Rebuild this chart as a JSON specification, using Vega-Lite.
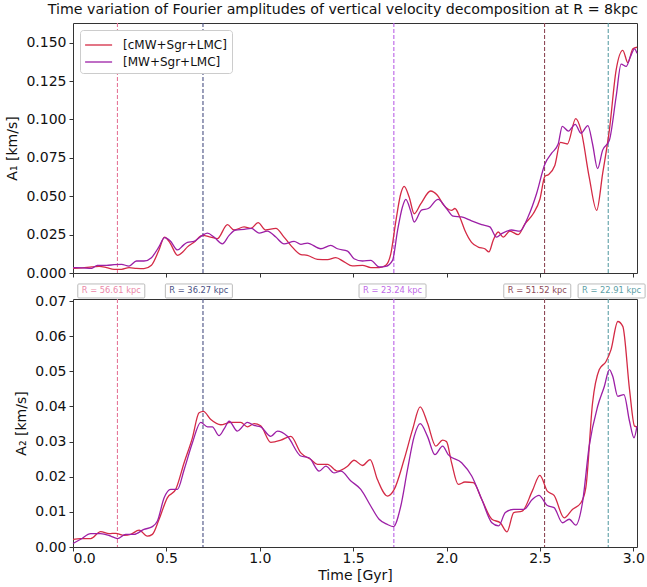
{
  "$schema": "https://vega.github.io/schema/vega-lite/v6.json",
  "padding": {"left": 5, "top": 2, "right": 5, "bottom": 2},
  "background": "white",
  "config": {
    "font": "DejaVu Sans",
    "view": {"stroke": "#333", "strokeWidth": 1},
    "axis": {"grid": false, "domain": false, "tickColor": "#333", "tickSize": 4, "labelFontSize": 14, "titleFontSize": 14, "titleFontWeight": "normal", "labelColor": "#111", "titleColor": "#111", "labelPadding": 3},
    "concat": {"spacing": 26}
  },
  "datasets": {
    "top": [
      {"t": 0.00, "A": 0.0030, "series": "[cMW+Sgr+LMC]"}, {"t": 0.05, "A": 0.0033, "series": "[cMW+Sgr+LMC]"}, {"t": 0.10, "A": 0.0040, "series": "[cMW+Sgr+LMC]"}, {"t": 0.14, "A": 0.0043, "series": "[cMW+Sgr+LMC]"}, {"t": 0.18, "A": 0.0035, "series": "[cMW+Sgr+LMC]"}, {"t": 0.22, "A": 0.0024, "series": "[cMW+Sgr+LMC]"}, {"t": 0.26, "A": 0.0024, "series": "[cMW+Sgr+LMC]"}, {"t": 0.30, "A": 0.0035, "series": "[cMW+Sgr+LMC]"}, {"t": 0.34, "A": 0.0030, "series": "[cMW+Sgr+LMC]"}, {"t": 0.38, "A": 0.0028, "series": "[cMW+Sgr+LMC]"}, {"t": 0.42, "A": 0.0050, "series": "[cMW+Sgr+LMC]"}, {"t": 0.46, "A": 0.0148, "series": "[cMW+Sgr+LMC]"}, {"t": 0.49, "A": 0.0234, "series": "[cMW+Sgr+LMC]"}, {"t": 0.52, "A": 0.0195, "series": "[cMW+Sgr+LMC]"}, {"t": 0.56, "A": 0.0115, "series": "[cMW+Sgr+LMC]"}, {"t": 0.59, "A": 0.0140, "series": "[cMW+Sgr+LMC]"}, {"t": 0.613, "A": 0.0170, "series": "[cMW+Sgr+LMC]"}, {"t": 0.648, "A": 0.0200, "series": "[cMW+Sgr+LMC]"}, {"t": 0.693, "A": 0.0245, "series": "[cMW+Sgr+LMC]"}, {"t": 0.737, "A": 0.0234, "series": "[cMW+Sgr+LMC]"}, {"t": 0.773, "A": 0.0224, "series": "[cMW+Sgr+LMC]"}, {"t": 0.827, "A": 0.0315, "series": "[cMW+Sgr+LMC]"}, {"t": 0.862, "A": 0.0280, "series": "[cMW+Sgr+LMC]"}, {"t": 0.916, "A": 0.0300, "series": "[cMW+Sgr+LMC]"}, {"t": 0.952, "A": 0.0290, "series": "[cMW+Sgr+LMC]"}, {"t": 0.991, "A": 0.0328, "series": "[cMW+Sgr+LMC]"}, {"t": 1.032, "A": 0.0280, "series": "[cMW+Sgr+LMC]"}, {"t": 1.086, "A": 0.0290, "series": "[cMW+Sgr+LMC]"}, {"t": 1.130, "A": 0.0234, "series": "[cMW+Sgr+LMC]"}, {"t": 1.166, "A": 0.0180, "series": "[cMW+Sgr+LMC]"}, {"t": 1.220, "A": 0.0120, "series": "[cMW+Sgr+LMC]"}, {"t": 1.255, "A": 0.0115, "series": "[cMW+Sgr+LMC]"}, {"t": 1.309, "A": 0.0089, "series": "[cMW+Sgr+LMC]"}, {"t": 1.363, "A": 0.0087, "series": "[cMW+Sgr+LMC]"}, {"t": 1.407, "A": 0.0100, "series": "[cMW+Sgr+LMC]"}, {"t": 1.452, "A": 0.0072, "series": "[cMW+Sgr+LMC]"}, {"t": 1.496, "A": 0.0046, "series": "[cMW+Sgr+LMC]"}, {"t": 1.550, "A": 0.0050, "series": "[cMW+Sgr+LMC]"}, {"t": 1.595, "A": 0.0035, "series": "[cMW+Sgr+LMC]"}, {"t": 1.639, "A": 0.0035, "series": "[cMW+Sgr+LMC]"}, {"t": 1.675, "A": 0.0050, "series": "[cMW+Sgr+LMC]"}, {"t": 1.702, "A": 0.0126, "series": "[cMW+Sgr+LMC]"}, {"t": 1.729, "A": 0.0340, "series": "[cMW+Sgr+LMC]"}, {"t": 1.755, "A": 0.0516, "series": "[cMW+Sgr+LMC]"}, {"t": 1.773, "A": 0.0564, "series": "[cMW+Sgr+LMC]"}, {"t": 1.800, "A": 0.0495, "series": "[cMW+Sgr+LMC]"}, {"t": 1.827, "A": 0.0386, "series": "[cMW+Sgr+LMC]"}, {"t": 1.862, "A": 0.0450, "series": "[cMW+Sgr+LMC]"}, {"t": 1.915, "A": 0.0534, "series": "[cMW+Sgr+LMC]"}, {"t": 1.951, "A": 0.0506, "series": "[cMW+Sgr+LMC]"}, {"t": 1.986, "A": 0.0440, "series": "[cMW+Sgr+LMC]"}, {"t": 2.027, "A": 0.0408, "series": "[cMW+Sgr+LMC]"}, {"t": 2.045, "A": 0.0420, "series": "[cMW+Sgr+LMC]"}, {"t": 2.071, "A": 0.0365, "series": "[cMW+Sgr+LMC]"}, {"t": 2.098, "A": 0.0278, "series": "[cMW+Sgr+LMC]"}, {"t": 2.134, "A": 0.0200, "series": "[cMW+Sgr+LMC]"}, {"t": 2.170, "A": 0.0169, "series": "[cMW+Sgr+LMC]"}, {"t": 2.205, "A": 0.0158, "series": "[cMW+Sgr+LMC]"}, {"t": 2.227, "A": 0.0137, "series": "[cMW+Sgr+LMC]"}, {"t": 2.250, "A": 0.0213, "series": "[cMW+Sgr+LMC]"}, {"t": 2.277, "A": 0.0267, "series": "[cMW+Sgr+LMC]"}, {"t": 2.304, "A": 0.0234, "series": "[cMW+Sgr+LMC]"}, {"t": 2.339, "A": 0.0273, "series": "[cMW+Sgr+LMC]"}, {"t": 2.384, "A": 0.0250, "series": "[cMW+Sgr+LMC]"}, {"t": 2.420, "A": 0.0320, "series": "[cMW+Sgr+LMC]"}, {"t": 2.464, "A": 0.0386, "series": "[cMW+Sgr+LMC]"}, {"t": 2.500, "A": 0.0480, "series": "[cMW+Sgr+LMC]"}, {"t": 2.527, "A": 0.0630, "series": "[cMW+Sgr+LMC]"}, {"t": 2.545, "A": 0.0640, "series": "[cMW+Sgr+LMC]"}, {"t": 2.580, "A": 0.0700, "series": "[cMW+Sgr+LMC]"}, {"t": 2.610, "A": 0.0850, "series": "[cMW+Sgr+LMC]"}, {"t": 2.647, "A": 0.0840, "series": "[cMW+Sgr+LMC]"}, {"t": 2.692, "A": 0.1005, "series": "[cMW+Sgr+LMC]"}, {"t": 2.720, "A": 0.0930, "series": "[cMW+Sgr+LMC]"}, {"t": 2.764, "A": 0.0625, "series": "[cMW+Sgr+LMC]"}, {"t": 2.804, "A": 0.0408, "series": "[cMW+Sgr+LMC]"}, {"t": 2.836, "A": 0.0647, "series": "[cMW+Sgr+LMC]"}, {"t": 2.872, "A": 0.0930, "series": "[cMW+Sgr+LMC]"}, {"t": 2.908, "A": 0.1320, "series": "[cMW+Sgr+LMC]"}, {"t": 2.944, "A": 0.1450, "series": "[cMW+Sgr+LMC]"}, {"t": 2.971, "A": 0.1370, "series": "[cMW+Sgr+LMC]"}, {"t": 2.998, "A": 0.1460, "series": "[cMW+Sgr+LMC]"}, {"t": 3.020, "A": 0.1470, "series": "[cMW+Sgr+LMC]"},
      {"t": 0.00, "A": 0.0035, "series": "[MW+Sgr+LMC]"}, {"t": 0.05, "A": 0.0033, "series": "[MW+Sgr+LMC]"}, {"t": 0.10, "A": 0.0030, "series": "[MW+Sgr+LMC]"}, {"t": 0.13, "A": 0.0050, "series": "[MW+Sgr+LMC]"}, {"t": 0.18, "A": 0.0050, "series": "[MW+Sgr+LMC]"}, {"t": 0.22, "A": 0.0054, "series": "[MW+Sgr+LMC]"}, {"t": 0.26, "A": 0.0056, "series": "[MW+Sgr+LMC]"}, {"t": 0.30, "A": 0.0045, "series": "[MW+Sgr+LMC]"}, {"t": 0.34, "A": 0.0078, "series": "[MW+Sgr+LMC]"}, {"t": 0.38, "A": 0.0078, "series": "[MW+Sgr+LMC]"}, {"t": 0.42, "A": 0.0100, "series": "[MW+Sgr+LMC]"}, {"t": 0.46, "A": 0.0170, "series": "[MW+Sgr+LMC]"}, {"t": 0.49, "A": 0.0230, "series": "[MW+Sgr+LMC]"}, {"t": 0.52, "A": 0.0210, "series": "[MW+Sgr+LMC]"}, {"t": 0.56, "A": 0.0150, "series": "[MW+Sgr+LMC]"}, {"t": 0.59, "A": 0.0180, "series": "[MW+Sgr+LMC]"}, {"t": 0.613, "A": 0.0200, "series": "[MW+Sgr+LMC]"}, {"t": 0.648, "A": 0.0206, "series": "[MW+Sgr+LMC]"}, {"t": 0.693, "A": 0.0245, "series": "[MW+Sgr+LMC]"}, {"t": 0.720, "A": 0.0260, "series": "[MW+Sgr+LMC]"}, {"t": 0.755, "A": 0.0234, "series": "[MW+Sgr+LMC]"}, {"t": 0.800, "A": 0.0190, "series": "[MW+Sgr+LMC]"}, {"t": 0.836, "A": 0.0245, "series": "[MW+Sgr+LMC]"}, {"t": 0.871, "A": 0.0280, "series": "[MW+Sgr+LMC]"}, {"t": 0.916, "A": 0.0284, "series": "[MW+Sgr+LMC]"}, {"t": 0.955, "A": 0.0290, "series": "[MW+Sgr+LMC]"}, {"t": 0.996, "A": 0.0260, "series": "[MW+Sgr+LMC]"}, {"t": 1.041, "A": 0.0273, "series": "[MW+Sgr+LMC]"}, {"t": 1.086, "A": 0.0234, "series": "[MW+Sgr+LMC]"}, {"t": 1.130, "A": 0.0190, "series": "[MW+Sgr+LMC]"}, {"t": 1.184, "A": 0.0206, "series": "[MW+Sgr+LMC]"}, {"t": 1.220, "A": 0.0187, "series": "[MW+Sgr+LMC]"}, {"t": 1.255, "A": 0.0195, "series": "[MW+Sgr+LMC]"}, {"t": 1.327, "A": 0.0158, "series": "[MW+Sgr+LMC]"}, {"t": 1.380, "A": 0.0180, "series": "[MW+Sgr+LMC]"}, {"t": 1.416, "A": 0.0158, "series": "[MW+Sgr+LMC]"}, {"t": 1.470, "A": 0.0143, "series": "[MW+Sgr+LMC]"}, {"t": 1.505, "A": 0.0093, "series": "[MW+Sgr+LMC]"}, {"t": 1.550, "A": 0.0078, "series": "[MW+Sgr+LMC]"}, {"t": 1.595, "A": 0.0082, "series": "[MW+Sgr+LMC]"}, {"t": 1.639, "A": 0.0039, "series": "[MW+Sgr+LMC]"}, {"t": 1.675, "A": 0.0043, "series": "[MW+Sgr+LMC]"}, {"t": 1.711, "A": 0.0082, "series": "[MW+Sgr+LMC]"}, {"t": 1.738, "A": 0.0278, "series": "[MW+Sgr+LMC]"}, {"t": 1.764, "A": 0.0430, "series": "[MW+Sgr+LMC]"}, {"t": 1.782, "A": 0.0480, "series": "[MW+Sgr+LMC]"}, {"t": 1.809, "A": 0.0400, "series": "[MW+Sgr+LMC]"}, {"t": 1.827, "A": 0.0332, "series": "[MW+Sgr+LMC]"}, {"t": 1.866, "A": 0.0410, "series": "[MW+Sgr+LMC]"}, {"t": 1.902, "A": 0.0420, "series": "[MW+Sgr+LMC]"}, {"t": 1.955, "A": 0.0480, "series": "[MW+Sgr+LMC]"}, {"t": 2.000, "A": 0.0420, "series": "[MW+Sgr+LMC]"}, {"t": 2.036, "A": 0.0370, "series": "[MW+Sgr+LMC]"}, {"t": 2.080, "A": 0.0365, "series": "[MW+Sgr+LMC]"}, {"t": 2.134, "A": 0.0340, "series": "[MW+Sgr+LMC]"}, {"t": 2.188, "A": 0.0315, "series": "[MW+Sgr+LMC]"}, {"t": 2.232, "A": 0.0300, "series": "[MW+Sgr+LMC]"}, {"t": 2.268, "A": 0.0234, "series": "[MW+Sgr+LMC]"}, {"t": 2.295, "A": 0.0256, "series": "[MW+Sgr+LMC]"}, {"t": 2.348, "A": 0.0280, "series": "[MW+Sgr+LMC]"}, {"t": 2.393, "A": 0.0273, "series": "[MW+Sgr+LMC]"}, {"t": 2.438, "A": 0.0369, "series": "[MW+Sgr+LMC]"}, {"t": 2.482, "A": 0.0516, "series": "[MW+Sgr+LMC]"}, {"t": 2.527, "A": 0.0710, "series": "[MW+Sgr+LMC]"}, {"t": 2.563, "A": 0.0780, "series": "[MW+Sgr+LMC]"}, {"t": 2.598, "A": 0.0840, "series": "[MW+Sgr+LMC]"}, {"t": 2.620, "A": 0.0955, "series": "[MW+Sgr+LMC]"}, {"t": 2.653, "A": 0.0924, "series": "[MW+Sgr+LMC]"}, {"t": 2.689, "A": 0.0968, "series": "[MW+Sgr+LMC]"}, {"t": 2.720, "A": 0.0910, "series": "[MW+Sgr+LMC]"}, {"t": 2.757, "A": 0.0960, "series": "[MW+Sgr+LMC]"}, {"t": 2.782, "A": 0.0840, "series": "[MW+Sgr+LMC]"}, {"t": 2.809, "A": 0.0680, "series": "[MW+Sgr+LMC]"}, {"t": 2.836, "A": 0.0800, "series": "[MW+Sgr+LMC]"}, {"t": 2.872, "A": 0.0864, "series": "[MW+Sgr+LMC]"}, {"t": 2.908, "A": 0.1146, "series": "[MW+Sgr+LMC]"}, {"t": 2.935, "A": 0.1360, "series": "[MW+Sgr+LMC]"}, {"t": 2.962, "A": 0.1345, "series": "[MW+Sgr+LMC]"}, {"t": 2.984, "A": 0.1406, "series": "[MW+Sgr+LMC]"}, {"t": 3.007, "A": 0.1460, "series": "[MW+Sgr+LMC]"}, {"t": 3.020, "A": 0.1430, "series": "[MW+Sgr+LMC]"}
    ],
    "bottom": [
      {"t": 0.000, "A": 0.0022, "series": "[cMW+Sgr+LMC]"}, {"t": 0.041, "A": 0.0024, "series": "[cMW+Sgr+LMC]"}, {"t": 0.095, "A": 0.0024, "series": "[cMW+Sgr+LMC]"}, {"t": 0.148, "A": 0.0044, "series": "[cMW+Sgr+LMC]"}, {"t": 0.193, "A": 0.0038, "series": "[cMW+Sgr+LMC]"}, {"t": 0.229, "A": 0.0039, "series": "[cMW+Sgr+LMC]"}, {"t": 0.273, "A": 0.0033, "series": "[cMW+Sgr+LMC]"}, {"t": 0.309, "A": 0.0036, "series": "[cMW+Sgr+LMC]"}, {"t": 0.354, "A": 0.0048, "series": "[cMW+Sgr+LMC]"}, {"t": 0.398, "A": 0.0031, "series": "[cMW+Sgr+LMC]"}, {"t": 0.425, "A": 0.0036, "series": "[cMW+Sgr+LMC]"}, {"t": 0.461, "A": 0.0079, "series": "[cMW+Sgr+LMC]"}, {"t": 0.505, "A": 0.0140, "series": "[cMW+Sgr+LMC]"}, {"t": 0.550, "A": 0.0164, "series": "[cMW+Sgr+LMC]"}, {"t": 0.595, "A": 0.0240, "series": "[cMW+Sgr+LMC]"}, {"t": 0.639, "A": 0.0310, "series": "[cMW+Sgr+LMC]"}, {"t": 0.675, "A": 0.0382, "series": "[cMW+Sgr+LMC]"}, {"t": 0.698, "A": 0.0386, "series": "[cMW+Sgr+LMC]"}, {"t": 0.738, "A": 0.0363, "series": "[cMW+Sgr+LMC]"}, {"t": 0.791, "A": 0.0348, "series": "[cMW+Sgr+LMC]"}, {"t": 0.845, "A": 0.0355, "series": "[cMW+Sgr+LMC]"}, {"t": 0.898, "A": 0.0355, "series": "[cMW+Sgr+LMC]"}, {"t": 0.934, "A": 0.0342, "series": "[cMW+Sgr+LMC]"}, {"t": 0.970, "A": 0.0351, "series": "[cMW+Sgr+LMC]"}, {"t": 1.005, "A": 0.0345, "series": "[cMW+Sgr+LMC]"}, {"t": 1.059, "A": 0.0298, "series": "[cMW+Sgr+LMC]"}, {"t": 1.113, "A": 0.0304, "series": "[cMW+Sgr+LMC]"}, {"t": 1.166, "A": 0.0315, "series": "[cMW+Sgr+LMC]"}, {"t": 1.220, "A": 0.0268, "series": "[cMW+Sgr+LMC]"}, {"t": 1.273, "A": 0.0249, "series": "[cMW+Sgr+LMC]"}, {"t": 1.309, "A": 0.0235, "series": "[cMW+Sgr+LMC]"}, {"t": 1.363, "A": 0.0235, "series": "[cMW+Sgr+LMC]"}, {"t": 1.416, "A": 0.0216, "series": "[cMW+Sgr+LMC]"}, {"t": 1.470, "A": 0.0230, "series": "[cMW+Sgr+LMC]"}, {"t": 1.505, "A": 0.0247, "series": "[cMW+Sgr+LMC]"}, {"t": 1.550, "A": 0.0232, "series": "[cMW+Sgr+LMC]"}, {"t": 1.591, "A": 0.0249, "series": "[cMW+Sgr+LMC]"}, {"t": 1.630, "A": 0.0192, "series": "[cMW+Sgr+LMC]"}, {"t": 1.684, "A": 0.0145, "series": "[cMW+Sgr+LMC]"}, {"t": 1.720, "A": 0.0164, "series": "[cMW+Sgr+LMC]"}, {"t": 1.773, "A": 0.0249, "series": "[cMW+Sgr+LMC]"}, {"t": 1.818, "A": 0.0334, "series": "[cMW+Sgr+LMC]"}, {"t": 1.859, "A": 0.0399, "series": "[cMW+Sgr+LMC]"}, {"t": 1.898, "A": 0.0353, "series": "[cMW+Sgr+LMC]"}, {"t": 1.943, "A": 0.0287, "series": "[cMW+Sgr+LMC]"}, {"t": 1.979, "A": 0.0304, "series": "[cMW+Sgr+LMC]"}, {"t": 2.000, "A": 0.0300, "series": "[cMW+Sgr+LMC]"}, {"t": 2.027, "A": 0.0240, "series": "[cMW+Sgr+LMC]"}, {"t": 2.063, "A": 0.0178, "series": "[cMW+Sgr+LMC]"}, {"t": 2.099, "A": 0.0185, "series": "[cMW+Sgr+LMC]"}, {"t": 2.144, "A": 0.0183, "series": "[cMW+Sgr+LMC]"}, {"t": 2.189, "A": 0.0135, "series": "[cMW+Sgr+LMC]"}, {"t": 2.243, "A": 0.0079, "series": "[cMW+Sgr+LMC]"}, {"t": 2.288, "A": 0.0069, "series": "[cMW+Sgr+LMC]"}, {"t": 2.324, "A": 0.0043, "series": "[cMW+Sgr+LMC]"}, {"t": 2.360, "A": 0.0098, "series": "[cMW+Sgr+LMC]"}, {"t": 2.405, "A": 0.0102, "series": "[cMW+Sgr+LMC]"}, {"t": 2.459, "A": 0.0159, "series": "[cMW+Sgr+LMC]"}, {"t": 2.500, "A": 0.0204, "series": "[cMW+Sgr+LMC]"}, {"t": 2.540, "A": 0.0159, "series": "[cMW+Sgr+LMC]"}, {"t": 2.576, "A": 0.0147, "series": "[cMW+Sgr+LMC]"}, {"t": 2.630, "A": 0.0083, "series": "[cMW+Sgr+LMC]"}, {"t": 2.674, "A": 0.0107, "series": "[cMW+Sgr+LMC]"}, {"t": 2.720, "A": 0.0126, "series": "[cMW+Sgr+LMC]"}, {"t": 2.746, "A": 0.0169, "series": "[cMW+Sgr+LMC]"}, {"t": 2.782, "A": 0.0410, "series": "[cMW+Sgr+LMC]"}, {"t": 2.818, "A": 0.0505, "series": "[cMW+Sgr+LMC]"}, {"t": 2.854, "A": 0.0528, "series": "[cMW+Sgr+LMC]"}, {"t": 2.881, "A": 0.0562, "series": "[cMW+Sgr+LMC]"}, {"t": 2.917, "A": 0.0642, "series": "[cMW+Sgr+LMC]"}, {"t": 2.944, "A": 0.0628, "series": "[cMW+Sgr+LMC]"}, {"t": 2.980, "A": 0.0448, "series": "[cMW+Sgr+LMC]"}, {"t": 3.007, "A": 0.0344, "series": "[cMW+Sgr+LMC]"}, {"t": 3.020, "A": 0.0342, "series": "[cMW+Sgr+LMC]"},
      {"t": 0.000, "A": 0.0010, "series": "[MW+Sgr+LMC]"}, {"t": 0.041, "A": 0.0022, "series": "[MW+Sgr+LMC]"}, {"t": 0.095, "A": 0.0038, "series": "[MW+Sgr+LMC]"}, {"t": 0.148, "A": 0.0038, "series": "[MW+Sgr+LMC]"}, {"t": 0.202, "A": 0.0031, "series": "[MW+Sgr+LMC]"}, {"t": 0.238, "A": 0.0024, "series": "[MW+Sgr+LMC]"}, {"t": 0.282, "A": 0.0036, "series": "[MW+Sgr+LMC]"}, {"t": 0.327, "A": 0.0036, "series": "[MW+Sgr+LMC]"}, {"t": 0.380, "A": 0.0050, "series": "[MW+Sgr+LMC]"}, {"t": 0.425, "A": 0.0058, "series": "[MW+Sgr+LMC]"}, {"t": 0.452, "A": 0.0074, "series": "[MW+Sgr+LMC]"}, {"t": 0.488, "A": 0.0140, "series": "[MW+Sgr+LMC]"}, {"t": 0.523, "A": 0.0164, "series": "[MW+Sgr+LMC]"}, {"t": 0.559, "A": 0.0164, "series": "[MW+Sgr+LMC]"}, {"t": 0.595, "A": 0.0220, "series": "[MW+Sgr+LMC]"}, {"t": 0.639, "A": 0.0296, "series": "[MW+Sgr+LMC]"}, {"t": 0.684, "A": 0.0355, "series": "[MW+Sgr+LMC]"}, {"t": 0.720, "A": 0.0342, "series": "[MW+Sgr+LMC]"}, {"t": 0.746, "A": 0.0342, "series": "[MW+Sgr+LMC]"}, {"t": 0.782, "A": 0.0317, "series": "[MW+Sgr+LMC]"}, {"t": 0.809, "A": 0.0336, "series": "[MW+Sgr+LMC]"}, {"t": 0.836, "A": 0.0358, "series": "[MW+Sgr+LMC]"}, {"t": 0.880, "A": 0.0330, "series": "[MW+Sgr+LMC]"}, {"t": 0.934, "A": 0.0355, "series": "[MW+Sgr+LMC]"}, {"t": 0.970, "A": 0.0346, "series": "[MW+Sgr+LMC]"}, {"t": 1.005, "A": 0.0342, "series": "[MW+Sgr+LMC]"}, {"t": 1.059, "A": 0.0315, "series": "[MW+Sgr+LMC]"}, {"t": 1.095, "A": 0.0330, "series": "[MW+Sgr+LMC]"}, {"t": 1.148, "A": 0.0315, "series": "[MW+Sgr+LMC]"}, {"t": 1.220, "A": 0.0259, "series": "[MW+Sgr+LMC]"}, {"t": 1.264, "A": 0.0254, "series": "[MW+Sgr+LMC]"}, {"t": 1.318, "A": 0.0216, "series": "[MW+Sgr+LMC]"}, {"t": 1.354, "A": 0.0230, "series": "[MW+Sgr+LMC]"}, {"t": 1.398, "A": 0.0211, "series": "[MW+Sgr+LMC]"}, {"t": 1.434, "A": 0.0216, "series": "[MW+Sgr+LMC]"}, {"t": 1.488, "A": 0.0188, "series": "[MW+Sgr+LMC]"}, {"t": 1.541, "A": 0.0164, "series": "[MW+Sgr+LMC]"}, {"t": 1.595, "A": 0.0116, "series": "[MW+Sgr+LMC]"}, {"t": 1.639, "A": 0.0079, "series": "[MW+Sgr+LMC]"}, {"t": 1.684, "A": 0.0064, "series": "[MW+Sgr+LMC]"}, {"t": 1.716, "A": 0.0058, "series": "[MW+Sgr+LMC]"}, {"t": 1.755, "A": 0.0116, "series": "[MW+Sgr+LMC]"}, {"t": 1.791, "A": 0.0220, "series": "[MW+Sgr+LMC]"}, {"t": 1.827, "A": 0.0315, "series": "[MW+Sgr+LMC]"}, {"t": 1.859, "A": 0.0351, "series": "[MW+Sgr+LMC]"}, {"t": 1.898, "A": 0.0315, "series": "[MW+Sgr+LMC]"}, {"t": 1.938, "A": 0.0263, "series": "[MW+Sgr+LMC]"}, {"t": 1.979, "A": 0.0287, "series": "[MW+Sgr+LMC]"}, {"t": 2.009, "A": 0.0263, "series": "[MW+Sgr+LMC]"}, {"t": 2.081, "A": 0.0240, "series": "[MW+Sgr+LMC]"}, {"t": 2.135, "A": 0.0202, "series": "[MW+Sgr+LMC]"}, {"t": 2.189, "A": 0.0135, "series": "[MW+Sgr+LMC]"}, {"t": 2.243, "A": 0.0069, "series": "[MW+Sgr+LMC]"}, {"t": 2.279, "A": 0.0060, "series": "[MW+Sgr+LMC]"}, {"t": 2.315, "A": 0.0098, "series": "[MW+Sgr+LMC]"}, {"t": 2.360, "A": 0.0107, "series": "[MW+Sgr+LMC]"}, {"t": 2.414, "A": 0.0107, "series": "[MW+Sgr+LMC]"}, {"t": 2.459, "A": 0.0135, "series": "[MW+Sgr+LMC]"}, {"t": 2.495, "A": 0.0147, "series": "[MW+Sgr+LMC]"}, {"t": 2.540, "A": 0.0118, "series": "[MW+Sgr+LMC]"}, {"t": 2.576, "A": 0.0112, "series": "[MW+Sgr+LMC]"}, {"t": 2.621, "A": 0.0069, "series": "[MW+Sgr+LMC]"}, {"t": 2.657, "A": 0.0079, "series": "[MW+Sgr+LMC]"}, {"t": 2.692, "A": 0.0062, "series": "[MW+Sgr+LMC]"}, {"t": 2.728, "A": 0.0126, "series": "[MW+Sgr+LMC]"}, {"t": 2.764, "A": 0.0287, "series": "[MW+Sgr+LMC]"}, {"t": 2.809, "A": 0.0400, "series": "[MW+Sgr+LMC]"}, {"t": 2.845, "A": 0.0457, "series": "[MW+Sgr+LMC]"}, {"t": 2.872, "A": 0.0505, "series": "[MW+Sgr+LMC]"}, {"t": 2.890, "A": 0.0486, "series": "[MW+Sgr+LMC]"}, {"t": 2.917, "A": 0.0429, "series": "[MW+Sgr+LMC]"}, {"t": 2.950, "A": 0.0434, "series": "[MW+Sgr+LMC]"}, {"t": 2.980, "A": 0.0358, "series": "[MW+Sgr+LMC]"}, {"t": 3.004, "A": 0.0311, "series": "[MW+Sgr+LMC]"}, {"t": 3.020, "A": 0.0344, "series": "[MW+Sgr+LMC]"}
    ],
    "events": [
      {"t": 0.238, "label": "R = 56.61 kpc", "label_t": 0.205},
      {"t": 0.696, "label": "R = 36.27 kpc", "label_t": 0.674},
      {"t": 1.718, "label": "R = 23.24 kpc", "label_t": 1.711},
      {"t": 2.525, "label": "R = 51.52 kpc", "label_t": 2.486},
      {"t": 2.866, "label": "R = 22.91 kpc", "label_t": 2.884}
    ]
  },
  "vconcat": [
    {
      "width": 564,
      "height": 250,
      "title": {"text": "Time variation of Fourier amplitudes of vertical velocity decomposition at R = 8kpc", "fontSize": 14.2, "fontWeight": "normal", "anchor": "middle", "offset": 5, "dx": -12, "color": "#111"},
      "layer": [
        {
          "data": {"name": "events"},
          "mark": {"type": "rule", "strokeDash": [4, 2], "strokeWidth": 1.1},
          "encoding": {
            "x": {"field": "t", "type": "quantitative", "scale": {"domain": [0, 3.02], "nice": false}},
            "stroke": {"field": "label", "type": "nominal", "legend": null, "scale": {"domain": ["R = 56.61 kpc", "R = 36.27 kpc", "R = 23.24 kpc", "R = 51.52 kpc", "R = 22.91 kpc"], "range": ["#e6789a", "#4a5184", "#bb62e6", "#8e4a57", "#5e9fa7"]}}
          }
        },
        {
          "data": {"name": "top"},
          "mark": {"type": "line", "interpolate": "monotone", "strokeWidth": 1.3},
          "encoding": {
            "x": {"field": "t", "type": "quantitative", "scale": {"domain": [0, 3.02], "nice": false}, "axis": {"labels": false, "title": null, "values": [0, 0.5, 1, 1.5, 2, 2.5, 3]}},
            "y": {"field": "A", "type": "quantitative", "scale": {"domain": [0, 0.1628], "nice": false, "zero": false}, "axis": {"title": "A₁ [km/s]", "format": ".3f", "values": [0, 0.025, 0.05, 0.075, 0.1, 0.125, 0.15], "titlePadding": 6}},
            "color": {"field": "series", "type": "nominal", "scale": {"domain": ["[cMW+Sgr+LMC]", "[MW+Sgr+LMC]"], "range": ["#d42a45", "#9c1fa6"]}, "legend": {"title": null, "orient": "top-left", "offset": 7, "strokeColor": "#cccccc", "fillColor": "white", "padding": 5, "cornerRadius": 3, "labelFontSize": 12, "labelOffset": 18, "symbolType": "M-1.1,0H1.9", "symbolSize": 324, "symbolStrokeWidth": 1.3, "symbolFillColor": "transparent", "rowPadding": 1, "labelColor": "#111"}}
          }
        },
        {
          "data": {"name": "events"},
          "mark": {"type": "rect", "width": 67, "height": 14, "fill": "white", "stroke": "#bbbbbb", "strokeWidth": 1, "cornerRadius": 1},
          "encoding": {
            "x": {"field": "label_t", "type": "quantitative"},
            "y": {"datum": -0.0117}
          }
        },
        {
          "data": {"name": "events"},
          "mark": {"type": "text", "fontSize": 8.3, "align": "center", "baseline": "middle"},
          "encoding": {
            "x": {"field": "label_t", "type": "quantitative"},
            "y": {"datum": -0.0117},
            "text": {"field": "label"},
            "fill": {"field": "label", "type": "nominal", "legend": null, "scale": {"domain": ["R = 56.61 kpc", "R = 36.27 kpc", "R = 23.24 kpc", "R = 51.52 kpc", "R = 22.91 kpc"], "range": ["#ec88a8", "#4a5184", "#bf6ae8", "#8e4a57", "#5e9fa7"]}}
          }
        }
      ]
    },
    {
      "width": 564,
      "height": 248,
      "layer": [
        {
          "data": {"name": "events"},
          "mark": {"type": "rule", "strokeDash": [4, 2], "strokeWidth": 1.1},
          "encoding": {
            "x": {"field": "t", "type": "quantitative", "scale": {"domain": [0, 3.02], "nice": false}},
            "stroke": {"field": "label", "type": "nominal", "legend": null}
          }
        },
        {
          "data": {"name": "bottom"},
          "mark": {"type": "line", "interpolate": "monotone", "strokeWidth": 1.3},
          "encoding": {
            "x": {"field": "t", "type": "quantitative", "scale": {"domain": [0, 3.02], "nice": false}, "axis": {"title": "Time [Gyr]", "format": ".1f", "values": [0, 0.5, 1, 1.5, 2, 2.5, 3], "labelPadding": 0, "titlePadding": 3}},
            "y": {"field": "A", "type": "quantitative", "scale": {"domain": [0, 0.0706], "nice": false, "zero": false}, "axis": {"title": "A₂ [km/s]", "format": ".2f", "values": [0, 0.01, 0.02, 0.03, 0.04, 0.05, 0.06, 0.07], "titlePadding": 6}},
            "color": {"field": "series", "type": "nominal", "legend": null}
          }
        }
      ]
    }
  ],
  "bounds": "flush",
  "spacing": 26,
  "resolve": {"legend": {"color": "independent"}}
}
